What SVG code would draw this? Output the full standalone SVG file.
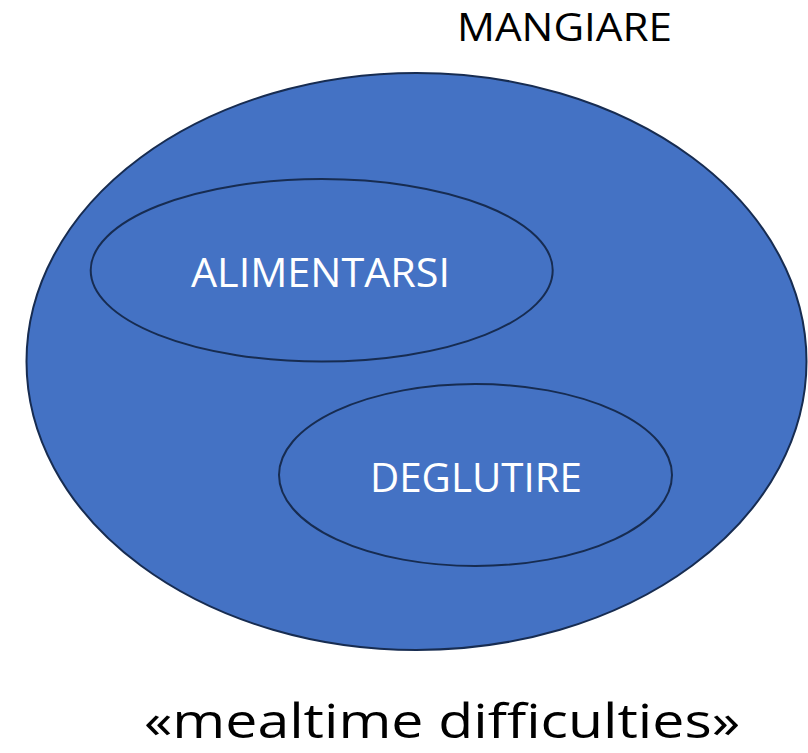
<svg xmlns="http://www.w3.org/2000/svg" width="808" height="753" viewBox="0 0 808 753">
<style>
.set{fill:#4472C4;stroke:#172C51;stroke-width:2}
.lbl{font-family:"Open Sans","Liberation Sans",sans-serif;fill:#fff;font-size:41px}
.blk{font-family:"Open Sans","Liberation Sans",sans-serif;fill:#000}
</style>
<g id="mangiare">
<ellipse class="set" cx="416.5" cy="361.5" rx="390" ry="288.5"/>
<text class="blk" x="457" y="41" font-size="38" textLength="215" lengthAdjust="spacingAndGlyphs">MANGIARE</text>
</g>
<g id="alimentarsi">
<ellipse class="set" cx="321.7" cy="270.3" rx="231" ry="91.3"/>
<text class="lbl" x="191" y="287" textLength="259" lengthAdjust="spacingAndGlyphs">ALIMENTARSI</text>
</g>
<g id="deglutire">
<ellipse class="set" cx="475.5" cy="475" rx="196.5" ry="91"/>
<text class="lbl" x="370" y="492" textLength="212" lengthAdjust="spacingAndGlyphs">DEGLUTIRE</text>
</g>
<g id="caption">
<text class="blk" x="144" y="738" font-size="48" textLength="596" lengthAdjust="spacingAndGlyphs">«mealtime difficulties»</text>
</g>
<g id="connectors"/>
</svg>
